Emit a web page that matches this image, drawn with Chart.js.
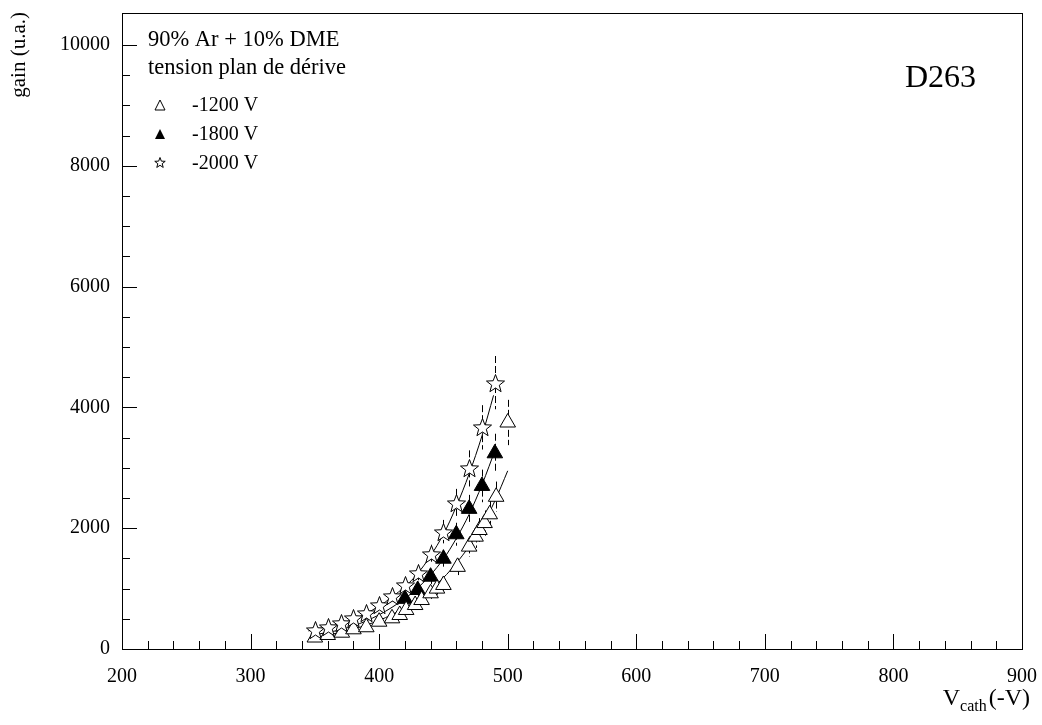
<!DOCTYPE html>
<html>
<head>
<meta charset="utf-8">
<script src="https://cdn.jsdelivr.net/npm/chart.js@4"></script>
<style>
  html, body { margin: 0; padding: 0; background: #fff; }
  canvas { display: block; }
</style>
</head>
<body>
<canvas id="gainChart" width="1042" height="725"></canvas>
<script>
// --- data (V_cath in -V, gain in u.a.) ---
const v1200 = [350, 360, 371, 380, 390, 400, 410, 416, 421, 428, 433, 440, 445, 450, 461, 470, 475, 478, 482, 486, 491, 500];
const g1200 = [190, 232, 270, 326, 360, 452, 508, 563, 646, 728, 811, 922, 1000, 1060, 1360, 1695, 1860, 1970, 2085, 2230, 2520, 3750];

const v1800 = [420, 430, 440, 450, 460, 470, 480, 490];
const g1800 = [830, 977, 1197, 1495, 1900, 2320, 2700, 3240];

const v2000 = [350, 360, 370, 380, 390, 400, 410, 420, 430, 440, 450, 460, 470, 480, 490];
const g2000 = [320, 365, 425, 508, 601, 722, 870, 1060, 1265, 1570, 1943, 2410, 2990, 3670, 4410];

// fitted curves
const fit1200X = [347, 370, 390, 410, 430, 450, 460, 470, 480, 490, 500];
const fit1200Y = [180, 275, 395, 570, 820, 1180, 1420, 1700, 2040, 2450, 2950];
const fit1800X = [347, 370, 390, 410, 430, 450, 460, 470, 480, 491];
const fit1800Y = [225, 320, 465, 690, 1010, 1490, 1830, 2230, 2720, 3340];
const fit2000X = [345, 370, 390, 410, 430, 450, 460, 470, 480, 489];
const fit2000Y = [300, 420, 590, 860, 1250, 1900, 2360, 2900, 3530, 4200];

const relErr = 0.1; // error bars about 10 %

// axes
const xMin = 200, xMax = 900;
const yMin = 0, yMax = 10530;
const xTickLabels = [200, 300, 400, 500, 600, 700, 800, 900];
const yTickLabels = [0, 2000, 4000, 6000, 8000, 10000];

const legendLabels = ["-1200 V", "-1800 V", "-2000 V"];
const serif = "'Liberation Serif', 'DejaVu Serif', serif";

const pts = (xs, ys) => xs.map((x, i) => ({ x: x, y: ys[i] }));

// five point star marker
function starPath(ctx, cx, cy, ro, ri) {
  ctx.beginPath();
  for (let k = 0; k < 10; k++) {
    const r = k % 2 === 0 ? ro : ri;
    const a = -Math.PI / 2 + k * Math.PI / 5;
    const px = cx + r * Math.cos(a), py = cy + r * Math.sin(a);
    if (k === 0) ctx.moveTo(px, py); else ctx.lineTo(px, py);
  }
  ctx.closePath();
}

function triPath(ctx, cx, cy, s) {
  ctx.beginPath();
  ctx.moveTo(cx, cy - s * 0.6);
  ctx.lineTo(cx + s / 2, cy + s * 0.4);
  ctx.lineTo(cx - s / 2, cy + s * 0.4);
  ctx.closePath();
}

// frame, inside ticks, error bars, star markers, texts
const decorPlugin = {
  id: "decor",
  beforeDatasetsDraw(chart) {
    const ctx = chart.ctx, ys = chart.scales.y;
    ctx.save();
    ctx.strokeStyle = "#000";
    ctx.lineWidth = 1;
    ctx.setLineDash([7, 3]);
    [0, 1, 2].forEach(di => {
      const meta = chart.getDatasetMeta(di);
      chart.data.datasets[di].data.forEach((p, i) => {
        const x = Math.round(meta.data[i].x) + 0.5;
        ctx.beginPath();
        ctx.moveTo(x, ys.getPixelForValue(p.y * (1 + relErr)));
        ctx.lineTo(x, ys.getPixelForValue(p.y * (1 - relErr)));
        ctx.stroke();
      });
    });
    ctx.restore();
  },
  afterDatasetsDraw(chart) {
    const ctx = chart.ctx;
    const meta = chart.getDatasetMeta(2);
    ctx.save();
    ctx.lineWidth = 1;
    ctx.strokeStyle = "#000";
    ctx.fillStyle = "#fff";
    meta.data.forEach(el => {
      starPath(ctx, Math.round(el.x) + 0.5, Math.round(el.y) + 1, 9.5, 4);
      ctx.fill();
      ctx.stroke();
    });
    ctx.restore();
  },
  afterDraw(chart) {
    const ctx = chart.ctx, a = chart.chartArea;
    const xs = chart.scales.x, ys = chart.scales.y;
    ctx.save();
    ctx.strokeStyle = "#000";
    ctx.lineWidth = 1;
    ctx.strokeRect(a.left + 0.5, a.top + 0.5, a.right - a.left, a.bottom - a.top);

    ctx.beginPath();
    for (let v = xMin; v <= xMax; v += 20) {
      const x = Math.round(xs.getPixelForValue(v)) + 0.5;
      const len = v % 100 === 0 ? 15 : 8;
      ctx.moveTo(x, a.bottom);
      ctx.lineTo(x, a.bottom - len);
    }
    for (let v = yMin; v <= 10000; v += 500) {
      const y = Math.round(ys.getPixelForValue(v)) + 0.5;
      const len = v % 2000 === 0 ? 15 : 8;
      ctx.moveTo(a.left, y);
      ctx.lineTo(a.left + len, y);
    }
    ctx.stroke();

    // legend block
    ctx.fillStyle = "#000";
    ctx.textBaseline = "alphabetic";
    ctx.textAlign = "left";
    ctx.font = "22.5px " + serif;
    ctx.fillText("90% Ar + 10% DME", 148, 46);
    ctx.fillText("tension plan de dérive", 148, 74);
    ctx.font = "20px " + serif;
    const rowY = [111, 140, 169];
    legendLabels.forEach((lab, i) => {
      ctx.fillText(lab, 192, rowY[i]);
      const cy = rowY[i] - 6;
      if (i === 2) {
        starPath(ctx, 160, cy, 5.5, 2.3);
        ctx.stroke();
      } else {
        triPath(ctx, 160, cy + 1, 10);
        if (i === 1) ctx.fill(); else ctx.stroke();
      }
    });

    ctx.font = "32px " + serif;
    ctx.fillText("D263", 905, 87);

    // axis titles
    const bigF = "24px " + serif, subF = "16px " + serif;
    ctx.font = bigF;
    const w3 = ctx.measureText("(-V)").width;
    const w1 = ctx.measureText("V").width;
    ctx.font = subF;
    const w2 = ctx.measureText("cath").width;
    let xr = 1030 - w3;
    ctx.font = bigF;
    ctx.fillText("(-V)", xr, 705);
    xr -= w2 + 2;
    ctx.font = subF;
    ctx.fillText("cath", xr, 711);
    ctx.font = bigF;
    ctx.fillText("V", xr - w1, 705);

    ctx.translate(25, 12);
    ctx.rotate(-Math.PI / 2);
    ctx.textAlign = "right";
    ctx.font = "21px " + serif;
    ctx.fillText("gain (u.a.)", 0, 0);
    ctx.restore();
  }
};

const fitStyle = {
  showLine: true, pointRadius: 0, borderColor: "#000", borderWidth: 1,
  cubicInterpolationMode: "monotone", fill: false
};

function fixBox(s, w, h) {
  if (w !== null) s.width = w;
  if (h !== null) s.height = h;
  s.paddingLeft = 0; s.paddingRight = 0; s.paddingTop = 0; s.paddingBottom = 0;
}

new Chart(document.getElementById("gainChart"), {
  type: "scatter",
  data: {
    datasets: [
      { label: legendLabels[0], data: pts(v1200, g1200), pointStyle: "triangle", pointRadius: 9,
        backgroundColor: "#fff", borderColor: "#000", borderWidth: 1 },
      { label: legendLabels[1], data: pts(v1800, g1800), pointStyle: "triangle", pointRadius: 9,
        backgroundColor: "#000", borderColor: "#000", borderWidth: 1 },
      // stars are painted by the plugin at the positions the scales give
      { label: legendLabels[2], data: pts(v2000, g2000), pointRadius: 0 },
      Object.assign({ label: "fit1200", data: pts(fit1200X, fit1200Y) }, fitStyle),
      Object.assign({ label: "fit1800", data: pts(fit1800X, fit1800Y) }, fitStyle),
      Object.assign({ label: "fit2000", data: pts(fit2000X, fit2000Y) }, fitStyle)
    ]
  },
  options: {
    responsive: false,
    animation: false,
    layout: { padding: { top: 13, right: 20, left: 0, bottom: 0 } },
    plugins: { legend: { display: false }, tooltip: { enabled: false } },
    scales: {
      x: {
        type: "linear", min: xMin, max: xMax,
        grid: { display: false }, border: { display: false },
        afterBuildTicks: s => { s.ticks = xTickLabels.map(v => ({ value: v })); },
        afterFit: s => fixBox(s, null, 76),
        ticks: {
          autoSkip: false, maxRotation: 0, padding: 8,
          color: "#000", font: { family: serif, size: 20 }
        }
      },
      y: {
        type: "linear", min: yMin, max: yMax,
        grid: { display: false }, border: { display: false },
        afterBuildTicks: s => { s.ticks = yTickLabels.map(v => ({ value: v })); },
        afterFit: s => fixBox(s, 122, null),
        ticks: {
          autoSkip: false, padding: 4,
          color: "#000", font: { family: serif, size: 20 },
          callback: v => String(v)
        }
      }
    }
  },
  plugins: [decorPlugin]
});
</script>
</body>
</html>
